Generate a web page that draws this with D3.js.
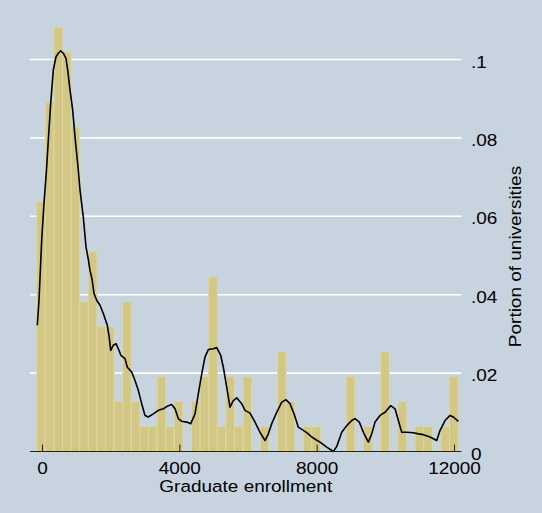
<!DOCTYPE html>
<html>
<head>
<meta charset="utf-8">
<script src="https://cdn.jsdelivr.net/npm/d3@7"></script>
<style>
  html, body { margin: 0; padding: 0; background: #c7d4e0; }
  svg { display: block; }
  text { font-family: "Liberation Sans", Arial, sans-serif; fill: #000; }
</style>
</head>
<body>
<svg id="chart" width="542" height="513"></svg>
<script>
// Histogram bins: first bin edge, bin width, and number of universities per bin
const binStart = -155;
const binWidth = 250.5;
const binCounts = [10, 14, 17, 16, 13, 6, 8, 5, 5, 2, 6, 2, 1, 1, 3, 1, 2, 0, 2, 3,
                   7, 1, 3, 1, 3, 0, 1, 0, 4, 2, 0, 1, 1, 0, 0, 0, 3, 0, 1, 0,
                   4, 0, 2, 0, 1, 1, 0, 1, 3];

// Smoothed density curve (enrollment, portion)
const densityX = [-137, -87, -9, 58, 131, 184, 253, 329, 408, 475, 545, 620, 699, 749, 816, 894, 961,
  1057, 1107, 1203, 1282, 1349, 1398, 1457, 1515, 1593, 1690, 1786, 1902, 1960, 2001, 2077, 2156,
  2223, 2301, 2418, 2485, 2613, 2709, 2805, 2904, 3000, 3097, 3242, 3388, 3534, 3679, 3778, 3874,
  3970, 4070, 4215, 4332, 4457, 4553, 4652, 4748, 4844, 4990, 5089, 5206, 5281, 5380, 5476, 5573,
  5672, 5817, 5913, 6059, 6205, 6350, 6496, 6592, 6691, 6837, 6983, 7108, 7224, 7341, 7466, 7612,
  7728, 7856, 7982, 8098, 8293, 8486, 8585, 8730, 8876, 9021, 9118, 9243, 9360, 9505, 9604, 9700,
  9846, 9992, 10158, 10283, 10379, 10478, 10624, 10816, 10962, 11107, 11302, 11497, 11594, 11739,
  11885, 11981, 12127];
const densityY = [0.0322, 0.0386, 0.0539, 0.0633, 0.0718, 0.0794, 0.0888, 0.0973, 0.1007, 0.1016,
  0.1022, 0.1016, 0.1003, 0.0973, 0.0922, 0.0871, 0.0803, 0.0718, 0.0667, 0.0598, 0.0522, 0.0490,
  0.0462, 0.0440, 0.0403, 0.0386, 0.0373, 0.0352, 0.0322, 0.0290, 0.0258, 0.0271, 0.0275, 0.0262,
  0.0245, 0.0237, 0.0215, 0.0203, 0.0181, 0.0156, 0.0122, 0.0092, 0.0088, 0.0096, 0.0105, 0.0109,
  0.0117, 0.0120, 0.0109, 0.0084, 0.0077, 0.0075, 0.0071, 0.0096, 0.0147, 0.0198, 0.0241, 0.0260,
  0.0262, 0.0265, 0.0245, 0.0215, 0.0164, 0.0113, 0.0130, 0.0137, 0.0122, 0.0105, 0.0098, 0.0075,
  0.0049, 0.0028, 0.0045, 0.0071, 0.0100, 0.0126, 0.0132, 0.0122, 0.0096, 0.0062, 0.0054, 0.0047,
  0.0037, 0.0030, 0.0024, 0.0011, 0.0000, 0.0013, 0.0049, 0.0066, 0.0079, 0.0084, 0.0075, 0.0049,
  0.0024, 0.0045, 0.0075, 0.0092, 0.0100, 0.0117, 0.0109, 0.0079, 0.0049, 0.0049, 0.0048, 0.0045,
  0.0043, 0.0037, 0.0028, 0.0054, 0.0079, 0.0092, 0.0088, 0.0077];

// Axis ticks
const xTicks = [0, 4000, 8000, 12000];
const xTickLabels = ["0", "4000", "8000", "12000"];
const yTicks = [0, 0.02, 0.04, 0.06, 0.08, 0.1];
const yTickLabels = ["0", ".02", ".04", ".06", ".08", ".1"];

const xTitle = "Graduate enrollment";
const yTitle = "Portion of universities";

const svg = d3.select("#chart");
const plotLeft = 30, plotRight = 461.5;
const stretch = 1.15;   // wide lettering

const x = d3.scaleLinear().domain([0, 12000]).range([42, 454]);
const y = d3.scaleLinear().domain([0, 0.1]).range([451.5, 59.5]);

const total = d3.sum(binCounts);
const bins = binCounts.map((c, i) => ({
  x0: binStart + i * binWidth,
  x1: binStart + (i + 1) * binWidth,
  p: c / total
}));

// background
svg.append("rect").attr("width", 542).attr("height", 513).attr("fill", "#c7d4e0");

// horizontal grid lines
svg.append("g").selectAll("line")
  .data(yTicks.filter(d => d > 0))
  .join("line")
  .attr("x1", plotLeft).attr("x2", plotRight)
  .attr("y1", d => y(d)).attr("y2", d => y(d))
  .attr("stroke", "#ffffff").attr("stroke-width", 1.6);

// histogram bars
svg.append("g").selectAll("rect")
  .data(bins.filter(b => b.p > 0))
  .join("rect")
  .attr("x", d => x(d.x0))
  .attr("width", d => x(d.x1) - x(d.x0))
  .attr("y", d => y(d.p))
  .attr("height", d => y(0) - y(d.p))
  .attr("fill", "#d2c785")
  .attr("stroke", "#ddd69f")
  .attr("stroke-width", 1);

// density curve
const line = d3.line().x(d => x(d[0])).y(d => y(d[1]));
svg.append("path")
  .datum(densityX.map((v, i) => [v, densityY[i]]))
  .attr("d", line)
  .attr("fill", "none")
  .attr("stroke", "#000")
  .attr("stroke-width", 1.6)
  .attr("stroke-linejoin", "round");

// x axis
const xAxisG = svg.append("g").attr("transform", `translate(0,${y(0)})`)
  .call(d3.axisBottom(x).tickValues(xTicks)
    .tickFormat((d, i) => xTickLabels[i])
    .tickSizeInner(-7).tickSizeOuter(0));
xAxisG.select(".domain").remove();
xAxisG.selectAll(".tick line").attr("stroke", "#222").attr("stroke-width", 1);
xAxisG.selectAll(".tick text")
  .attr("y", 0).attr("dy", 0)
  .attr("transform", `translate(0,22) scale(${stretch},1)`)
  .style("font-size", "16.5px").attr("fill", "#000");
xAxisG.append("line")
  .attr("x1", plotLeft).attr("x2", plotRight)
  .attr("y1", 0).attr("y2", 0)
  .attr("stroke", "#222").attr("stroke-width", 1.2);

// y axis on the right
const yAxisG = svg.append("g").attr("transform", `translate(${plotRight},0)`)
  .call(d3.axisRight(y).tickValues(yTicks)
    .tickFormat((d, i) => yTickLabels[i])
    .tickSize(0));
yAxisG.select(".domain").remove();
yAxisG.selectAll(".tick text")
  .attr("x", 0).attr("y", 0).attr("dy", 0)
  .attr("text-anchor", "start")
  .attr("transform", `translate(9.5,7.5) scale(${stretch},1)`)
  .style("font-size", "16.5px").attr("fill", "#000");

// axis titles
svg.append("text")
  .attr("transform", `translate(${(plotLeft + plotRight) / 2},491.5) scale(${stretch},1)`)
  .attr("text-anchor", "middle")
  .style("font-size", "16.5px")
  .text(xTitle);

svg.append("text")
  .attr("transform", `translate(521,${y(0.05) + 1}) rotate(-90) scale(${stretch},1)`)
  .attr("text-anchor", "middle")
  .style("font-size", "16.5px")
  .text(yTitle);
</script>
</body>
</html>
